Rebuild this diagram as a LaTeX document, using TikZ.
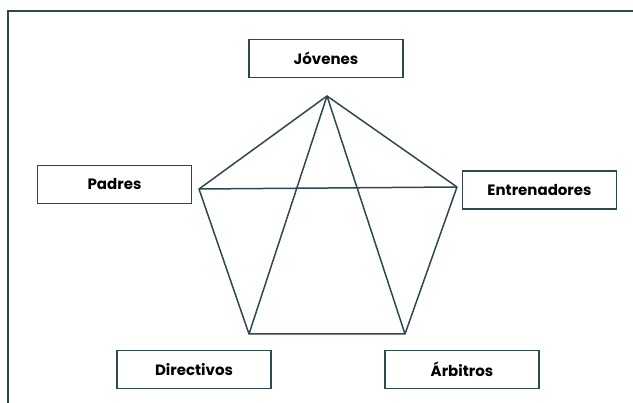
\documentclass[tikz,border=0pt]{standalone}
\usepackage{fontspec}
\setmainfont{Poppins}
\definecolor{trazo}{HTML}{2E4850}

\begin{document}
\begin{tikzpicture}[x=1pt,y=-1pt,
  actor/.style={draw=trazo,line width=1.7pt,fill=white,
    minimum width=154pt,minimum height=38pt,inner sep=0pt,
    font=\bfseries\fontsize{15}{17}\selectfont},
  lado/.style={draw=trazo,line width=1.5pt,line join=round}]

\useasboundingbox (0,0) rectangle (633,403);

%% marco
\draw[trazo,line width=1.8pt] (8,403) -- (8,11) -- (633,11);

%% actores
\node[actor] (jov) at (326,58.5) {Jóvenes};
\node[actor] (pad) at (114.5,184.5) {Padres};
\node[actor] (ent) at (539.5,190) {Entrenadores};
\node[actor] (dir) at (194,369.5) {Directivos};
\node[actor] (arb) at (462,369.5) {Árbitros};

%% vertices del pentagono
\coordinate (vj) at (327,96);
\coordinate (vp) at (199,189);
\coordinate (ve) at (457,187);
\coordinate (vd) at (249,334);
\coordinate (va) at (405,334);

\draw[lado] (vj) -- (vp) -- (vd) -- (va) -- (ve) -- cycle;
\draw[lado] (vp) -- (ve);
\draw[lado] (vj) -- (vd);
\draw[lado] (vj) -- (va);

\end{tikzpicture}
\end{document}
